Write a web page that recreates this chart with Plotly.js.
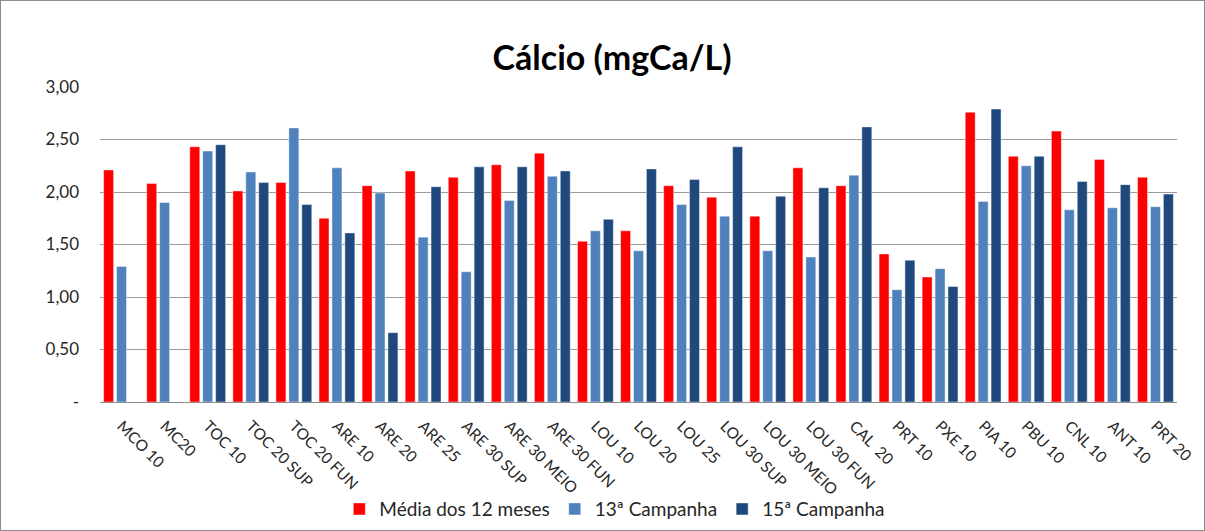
<!DOCTYPE html>
<html>
<head>
<meta charset="utf-8">
<script src="https://cdn.plot.ly/plotly-3.0.1.min.js"></script>
<style>
html,body{margin:0;padding:0;background:#fff;}
#chart{width:1203px;height:529px;border:1px solid #8c8c8c;}
</style>
</head>
<body>
<div id="chart"></div>
<script>
const categories = ["MCO 10","MC20","TOC 10","TOC 20 SUP","TOC 20 FUN","ARE 10","ARE 20","ARE 25","ARE 30 SUP","ARE 30 MEIO","ARE 30 FUN","LOU 10","LOU 20","LOU 25","LOU 30 SUP","LOU 30 MEIO","LOU 30 FUN","CAL  20","PRT 10","PXE 10","PIA 10","PBU 10","CNL 10","ANT 10","PRT 20"];
const media12 = [2.21,2.08,2.43,2.01,2.09,1.75,2.06,2.20,2.14,2.26,2.37,1.53,1.63,2.06,1.95,1.77,2.23,2.06,1.41,1.19,2.76,2.34,2.58,2.31,2.14];
const camp13 = [1.29,1.90,2.39,2.19,2.61,2.23,1.99,1.57,1.24,1.92,2.15,1.63,1.44,1.88,1.77,1.44,1.38,2.16,1.07,1.27,1.91,2.25,1.83,1.85,1.86];
const camp15 = [null,null,2.45,2.09,1.88,1.61,0.66,2.05,2.24,2.24,2.20,1.74,2.22,2.12,2.43,1.96,2.04,2.62,1.35,1.10,2.79,2.34,2.10,2.07,1.98];
const seriesNames = ["Média dos 12 meses","13ª Campanha","15ª Campanha"];
const yTickVals = [0,0.5,1,1.5,2,2.5,3];
const yTickText = ["-","0,50","1,00","1,50","2,00","2,50","3,00"];

const colors = ["#FF0000","#4F81BD","#1F497D"];
const data = [media12, camp13, camp15].map((vals,i)=>({
  type:"bar", x:categories, y:vals, name:seriesNames[i],
  marker:{color:colors[i], line:{color:"rgba(255,255,255,0.6)", width:0.7}},
  hoverinfo:"x+y"
}));

const layout = {
  width:1203, height:529,
  margin:{l:99, r:27, t:86, b:128, autoexpand:false},
  paper_bgcolor:"#fff", plot_bgcolor:"#fff",
  font:{family:"Lato, Calibri, sans-serif", color:"#262626"},
  title:{text:"<b>Cálcio (mgCa/L)</b>", font:{size:34, family:"Lato, sans-serif", color:"#000"}, x:0.508, xanchor:"center", y:0.893, yanchor:"middle"},
  barmode:"group", bargap:0.1, bargroupgap:0.23,
  xaxis:{type:"category", tickangle:45, tickfont:{size:15.5, color:"#262626"}, ticklabelstandoff:8, showline:true, linecolor:"#8c8c8c", linewidth:1, ticks:"", showgrid:false, automargin:false},
  yaxis:{range:[0,3], tickvals:yTickVals, ticktext:yTickText, tickfont:{size:17, color:"#262626"}, ticklabelstandoff:20, showgrid:true, gridcolor:"#9a9a9a", gridwidth:1, zeroline:false, showline:false, ticks:"", automargin:false},
  showlegend:true,
  legend:{orientation:"h", x:0.478, xanchor:"center", y:-0.34, yanchor:"middle", bgcolor:"rgba(0,0,0,0)", font:{size:19, color:"#262626"}, itemwidth:30, traceorder:"normal"}
};
Plotly.newPlot("chart", data, layout, {displayModeBar:false, staticPlot:true});
</script>
</body>
</html>
